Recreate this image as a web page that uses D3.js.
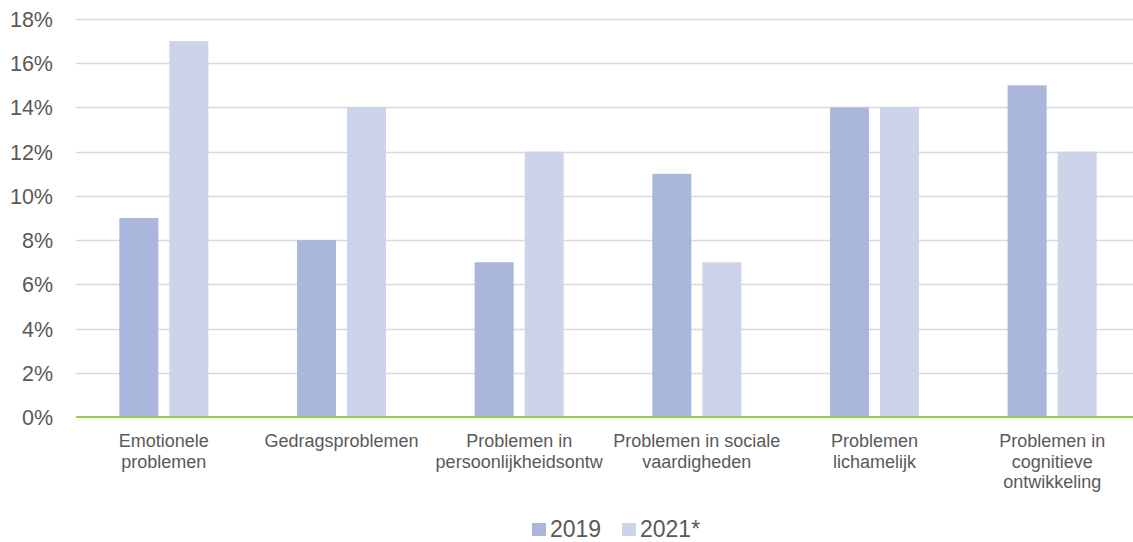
<!DOCTYPE html>
<html><head><meta charset="utf-8">
<script src="https://cdn.jsdelivr.net/npm/d3@7/dist/d3.min.js"></script>
<style>
html,body{margin:0;padding:0;background:#fff;}
svg{display:block;font-family:"Liberation Sans",Arial,sans-serif;}
</style></head>
<body><svg id="c" width="1133" height="542"></svg>
<script>
const categories = ["Emotionele problemen","Gedragsproblemen","Problemen in persoonlijkheidsontw","Problemen in sociale vaardigheden","Problemen lichamelijk","Problemen in cognitieve ontwikkeling"];
const categoryLines = [["Emotionele","problemen"],["Gedragsproblemen"],["Problemen in","persoonlijkheidsontw"],["Problemen in sociale","vaardigheden"],["Problemen","lichamelijk"],["Problemen in","cognitieve","ontwikkeling"]];
const seriesNames = ["2019","2021*"];
const values2019 = [9, 8, 7, 11, 14, 15];
const values2021 = [17, 14, 12, 7, 14, 12];
const yTicks = [0, 2, 4, 6, 8, 10, 12, 14, 16, 18];
const colors = ["#abb6dc", "#cdd3e8"];

const svg = d3.select("#c");
const x = d3.scaleBand().domain(categories).range([75, 1141]).paddingInner(0).paddingOuter(0);
const xs = d3.scaleBand().domain(seriesNames).range([0, x.bandwidth()]).paddingInner(0.22).paddingOuter(0.886);
const y = d3.scaleLinear().domain([0, 18]).range([417, 19]);

// gridlines
svg.append("g").selectAll("line").data(yTicks.filter(d => d > 0)).join("line")
  .attr("x1", 76).attr("x2", 1133)
  .attr("y1", d => Math.round(y(d)) + 0.5).attr("y2", d => Math.round(y(d)) + 0.5)
  .attr("stroke", "#d9d9d9").attr("stroke-width", 1.5);

// y tick labels
svg.append("g").selectAll("text").data(yTicks).join("text")
  .attr("x", 53).attr("y", d => y(d) + 8)
  .attr("text-anchor", "end").attr("fill", "#595959").attr("font-size", 21.5)
  .text(d => d + "%");

// bars
const series = [values2019, values2021];
series.forEach((vals, si) => {
  svg.append("g").selectAll("rect").data(vals).join("rect")
    .attr("x", (d, i) => x(categories[i]) + xs(seriesNames[si]))
    .attr("width", xs.bandwidth())
    .attr("y", d => y(d))
    .attr("height", d => y(0) - y(d))
    .attr("fill", colors[si]);
});

// x axis line
svg.append("line").attr("x1", 76).attr("x2", 1133).attr("y1", y(0)).attr("y2", y(0))
  .attr("stroke", "#92d050").attr("stroke-width", 2);

// category labels
const cl = svg.append("g").selectAll("text").data(categories).join("text")
  .attr("text-anchor", "middle").attr("fill", "#595959").attr("font-size", 18)
  .attr("x", d => x(d) + x.bandwidth() / 2).attr("y", 447);
cl.each(function(d, i) {
  const t = d3.select(this);
  categoryLines[i].forEach((ln, j) => {
    t.append("tspan").attr("x", x(d) + x.bandwidth() / 2).attr("y", 447 + j * 20.5).text(ln);
  });
});

// legend
const legendX = [532, 622];
seriesNames.forEach((s, i) => {
  svg.append("rect").attr("x", legendX[i]).attr("y", 523).attr("width", 14).attr("height", 13).attr("fill", colors[i]);
  svg.append("text").attr("x", legendX[i] + 18).attr("y", 537).attr("fill", "#595959").attr("font-size", 23).text(s);
});
</script></body></html>
